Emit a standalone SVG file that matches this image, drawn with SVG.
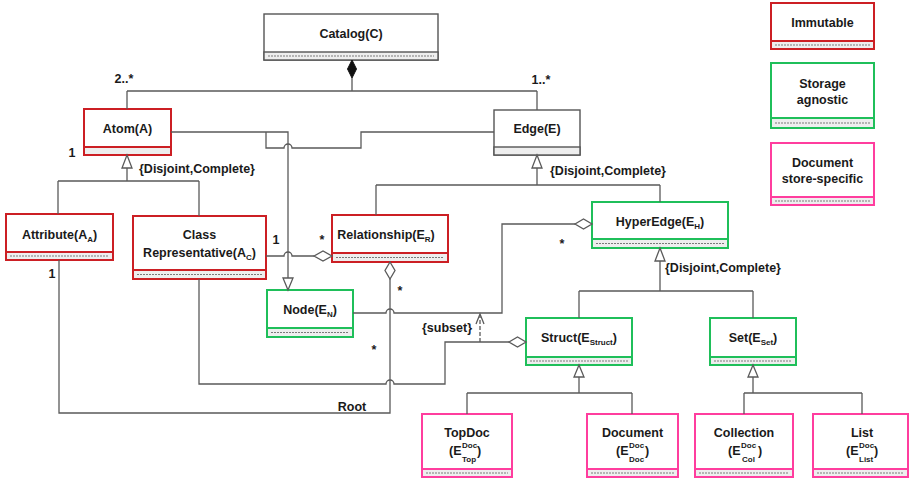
<svg xmlns="http://www.w3.org/2000/svg" width="909" height="478" viewBox="0 0 909 478">
<style>
text{font-family:"Liberation Sans",Arial,sans-serif;font-weight:bold;font-size:12.5px;fill:#1a1a1a}
.c{text-anchor:middle}
.sub{font-size:8px}
.box{fill:#fff;stroke-width:2}
.cmp{fill:#eeeeee;stroke-width:2}
.dash{stroke:#7a7a7a;stroke-width:1;stroke-dasharray:2,1}
.red{stroke:#cc1f24}
.grn{stroke:#1fbf5a}
.pnk{stroke:#ff3d9e}
.blk{stroke:#555;stroke-width:1.4}
.ln{fill:none;stroke:#5a5a5a;stroke-width:1.3}
.tri{fill:#fff;stroke:#5a5a5a;stroke-width:1.3}
.dia{fill:#fff;stroke:#5a5a5a;stroke-width:1.3}
.fdia{fill:#111;stroke:#111;stroke-width:1}
</style>

<g id="legend-immutable">
<rect class="box red" x="771" y="3" width="103" height="46"/>
<rect class="cmp red" x="771" y="41" width="103" height="8"/>
<line class="dash" x1="775" y1="45" x2="870" y2="45"/>
<text class="c" x="822.5" y="26.5">Immutable</text>
</g>
<g id="legend-storage">
<rect class="box grn" x="771" y="63" width="103" height="65"/>
<rect class="cmp grn" x="771" y="118" width="103" height="10"/>
<line class="dash" x1="775" y1="123" x2="870" y2="123"/>
<text class="c" x="822.5" y="87.5">Storage</text>
<text class="c" x="822.5" y="103.5">agnostic</text>
</g>
<g id="legend-docstore">
<rect class="box pnk" x="771" y="143" width="103" height="62"/>
<rect class="cmp pnk" x="771" y="197" width="103" height="8"/>
<line class="dash" x1="775" y1="201" x2="870" y2="201"/>
<text class="c" x="822.5" y="166.5">Document</text>
<text class="c" x="822.5" y="182.5">store-specific</text>
</g>

<g id="catalog">
<rect class="box blk" x="264" y="14" width="174" height="46"/>
<rect class="cmp blk" x="264" y="52" width="174" height="8"/>
<line class="dash" x1="268" y1="56" x2="434" y2="56"/>
<text class="c" x="351" y="38">Catalog(C)</text>
</g>

<g id="atom">
<rect class="box red" x="84" y="109" width="87" height="46"/>
<rect class="cmp red" x="84" y="147" width="87" height="8"/>
<text class="c" x="127.5" y="132.5">Atom(A)</text>
</g>

<g id="edge">
<rect class="box blk" x="494" y="110" width="86" height="45"/>
<rect class="cmp blk" x="494" y="147" width="86" height="8"/>
<text class="c" x="537" y="133">Edge(E)</text>
</g>

<g id="attribute">
<rect class="box red" x="6" y="214" width="107" height="46"/>
<rect class="cmp red" x="6" y="252" width="107" height="8"/>
<line class="dash" x1="10" y1="256" x2="109" y2="256"/>
<text class="c" x="59.5" y="238.5">Attribute(A<tspan class="sub" dy="3">A</tspan><tspan dy="-3">)</tspan></text>
</g>

<g id="classrep">
<rect class="box red" x="133" y="216" width="133" height="63"/>
<rect class="cmp red" x="133" y="270" width="133" height="9"/>
<line class="dash" x1="137" y1="274.5" x2="262" y2="274.5"/>
<text class="c" x="199.5" y="238.5">Class</text>
<text class="c" x="199.5" y="256.5">Representative(A<tspan class="sub" dy="3">C</tspan><tspan dy="-3">)</tspan></text>
</g>

<g id="relationship">
<rect class="box red" x="332" y="215" width="116" height="47"/>
<rect class="cmp red" x="332" y="253" width="116" height="9"/>
<line class="dash" x1="336" y1="257.5" x2="444" y2="257.5"/>
<text class="c" x="386" y="238.5">Relationship(E<tspan class="sub" dy="3">R</tspan><tspan dy="-3">)</tspan></text>
</g>

<g id="node">
<rect class="box grn" x="267" y="290" width="86" height="47"/>
<rect class="cmp grn" x="267" y="328" width="86" height="9"/>
<line class="dash" x1="271" y1="332.5" x2="349" y2="332.5"/>
<text class="c" x="310" y="313.5">Node(E<tspan class="sub" dy="3">N</tspan><tspan dy="-3">)</tspan></text>
</g>

<g id="hyperedge">
<rect class="box grn" x="592" y="202" width="136" height="46"/>
<rect class="cmp grn" x="592" y="239" width="136" height="9"/>
<line class="dash" x1="596" y1="243.5" x2="724" y2="243.5"/>
<text class="c" x="660" y="225.5">HyperEdge(E<tspan class="sub" dy="3">H</tspan><tspan dy="-3">)</tspan></text>
</g>

<g id="struct">
<rect class="box grn" x="526" y="318" width="106" height="47"/>
<rect class="cmp grn" x="526" y="357" width="106" height="8"/>
<line class="dash" x1="530" y1="361" x2="628" y2="361"/>
<text class="c" x="579" y="341.5">Struct(E<tspan class="sub" dy="3">Struct</tspan><tspan dy="-3">)</tspan></text>
</g>

<g id="set">
<rect class="box grn" x="710" y="318" width="86" height="47"/>
<rect class="cmp grn" x="710" y="357" width="86" height="8"/>
<line class="dash" x1="714" y1="361" x2="792" y2="361"/>
<text class="c" x="753" y="341.5">Set(E<tspan class="sub" dy="3">Set</tspan><tspan dy="-3">)</tspan></text>
</g>

<g id="topdoc">
<rect class="box pnk" x="422" y="414" width="90" height="63"/>
<rect class="cmp pnk" x="422" y="469" width="90" height="8"/>
<line class="dash" x1="426" y1="473" x2="508" y2="473"/>
<text class="c" x="467" y="436.5">TopDoc</text>
<text y="455"><tspan x="449">(E</tspan><tspan class="sub" x="462" y="448">Doc</tspan><tspan class="sub" x="462" y="462">Top</tspan><tspan x="477" y="455">)</tspan></text>
</g>

<g id="document">
<rect class="box pnk" x="587" y="414" width="91" height="63"/>
<rect class="cmp pnk" x="587" y="469" width="91" height="8"/>
<line class="dash" x1="591" y1="473" x2="674" y2="473"/>
<text class="c" x="632.5" y="436.5">Document</text>
<text y="455"><tspan x="616">(E</tspan><tspan class="sub" x="629" y="448">Doc</tspan><tspan class="sub" x="629" y="462">Doc</tspan><tspan x="645" y="455">)</tspan></text>
</g>

<g id="collection">
<rect class="box pnk" x="695" y="414" width="98" height="63"/>
<rect class="cmp pnk" x="695" y="469" width="98" height="8"/>
<line class="dash" x1="699" y1="473" x2="789" y2="473"/>
<text class="c" x="744" y="436.5">Collection</text>
<text y="455"><tspan x="728">(E</tspan><tspan class="sub" x="741" y="448">Doc</tspan><tspan class="sub" x="742" y="462">Col</tspan><tspan x="758" y="455">)</tspan></text>
</g>

<g id="list">
<rect class="box pnk" x="813" y="414" width="95" height="63"/>
<rect class="cmp pnk" x="813" y="469" width="95" height="8"/>
<line class="dash" x1="817" y1="473" x2="904" y2="473"/>
<text class="c" x="862" y="436.5">List</text>
<text y="455"><tspan x="846">(E</tspan><tspan class="sub" x="859" y="448">Doc</tspan><tspan class="sub" x="859" y="462">List</tspan><tspan x="874" y="455">)</tspan></text>
</g>

<g id="connectors">
<!-- catalog composition -->
<polygon class="fdia" points="352,60 356.5,69 352,78 347.5,69"/>
<path class="ln" d="M352,78 V91 M127,91 H537 M127,91 V109 M537,91 V110"/>
<!-- atom generalization -->
<path class="ln" d="M127,168 V181 M58,181 H199 M58,181 V214 M199,181 V216"/>
<polygon class="tri" points="127,155 132,168 122,168"/>
<!-- edge generalization -->
<path class="ln" d="M537,168 V185 M376,185 H660 M376,185 V215 M660,185 V202"/>
<polygon class="tri" points="537,155 542,168 532,168"/>
<!-- hyperedge generalization -->
<path class="ln" d="M660,261 V291 M579,291 H753 M579,291 V318 M753,291 V318"/>
<polygon class="tri" points="660,248 665,261 655,261"/>
<!-- struct generalization -->
<path class="ln" d="M579,377 V393 M467,393 H632 M467,393 V414 M632,393 V414"/>
<polygon class="tri" points="579,365 584,377 574,377"/>
<!-- set generalization -->
<path class="ln" d="M753,377 V393 M744,393 H862 M744,393 V414 M862,393 V414"/>
<polygon class="tri" points="753,365 758,377 748,377"/>
<!-- atom / edge to node -->
<path class="ln" d="M171,132 H288 V278"/>
<path class="ln" d="M494,132 H361 V148 H292 A4,4 0 0 0 284,148 H266 V132"/>
<polygon class="tri" points="288,290 293,278 283,278"/>
<!-- class rep to relationship -->
<path class="ln" d="M266,256 H284 A4,4 0 0 1 292,256 H314"/>
<polygon class="dia" points="314,256 323,251 332,256 323,261"/>
<!-- relationship root -->
<polygon class="dia" points="390,262 395,270.5 390,279 385,270.5"/>
<path class="ln" d="M390,279 V413 H59 V260"/>
<!-- node to hyperedge -->
<path class="ln" d="M353,313 H386 A4,4 0 0 1 394,313 H502 V224 H575"/>
<polygon class="dia" points="575,224 583.5,219 592,224 583.5,229"/>
<!-- class rep to struct -->
<path class="ln" d="M199,279 V384 H386 A4,4 0 0 1 394,384 H445 V342 H509"/>
<polygon class="dia" points="509,342 517.5,337 526,342 517.5,347"/>
<!-- subset -->
<path class="ln" d="M480,342 V315" stroke-dasharray="4,2"/>
<path class="ln" d="M476,324 L480,314 L484,324"/>
<!-- labels -->
<text class="c" x="124" y="83">2..*</text>
<text class="c" x="541" y="84">1..*</text>
<text class="c" x="72" y="157">1</text>
<text x="139" y="173">{Disjoint,Complete}</text>
<text x="550" y="175">{Disjoint,Complete}</text>
<text x="665" y="272">{Disjoint,Complete}</text>
<text class="c" x="276" y="244">1</text>
<text class="c" x="322" y="243.5">*</text>
<text class="c" x="400" y="294.5">*</text>
<text class="c" x="562" y="247.5">*</text>
<text class="c" x="374" y="353.5">*</text>
<text class="c" x="52" y="277.5">1</text>
<text class="c" x="352" y="411">Root</text>
<text class="c" x="447" y="332">{subset}</text>
</g>
</svg>
